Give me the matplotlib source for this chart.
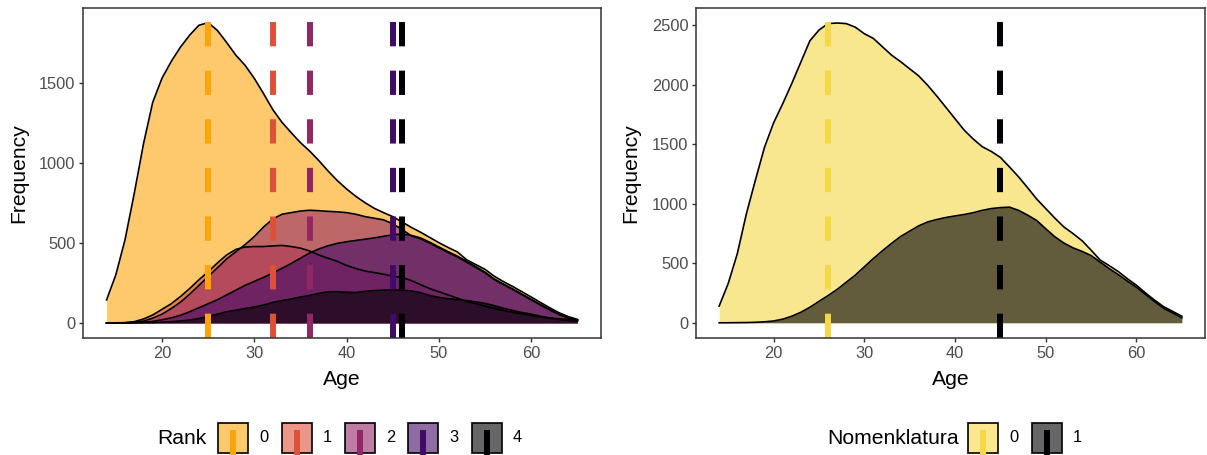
import numpy as np
import matplotlib
matplotlib.use("Agg")
import matplotlib.pyplot as plt
from matplotlib.patches import Rectangle
from matplotlib.lines import Line2D

plt.rcParams["font.family"] = ["Liberation Sans", "DejaVu Sans"]
plt.rcParams["lines.scale_dashes"] = False

# ---------------------------------------------------------
# Data
# ---------------------------------------------------------
ages = list(range(14, 66))

rank0 = [144, 300, 520, 810, 1120, 1380, 1530, 1635, 1725, 1800, 1862, 1878, 1830, 1755,
         1675, 1612, 1530, 1435, 1335, 1255, 1190, 1128, 1075, 1015, 950, 890, 838, 792,
         752, 717, 690, 665, 632, 598, 568, 535, 502, 472, 444, 395, 365, 335, 292, 258,
         228, 195, 162, 128, 95, 64, 40, 22]
rank1 = [0, 1, 2, 8, 25, 50, 85, 120, 165, 215, 270, 320, 375, 425, 460, 475, 478, 478,
         482, 485, 478, 468, 450, 425, 405, 385, 360, 340, 325, 315, 305, 292, 285, 265,
         240, 215, 195, 175, 155, 135, 120, 105, 90, 78, 66, 56, 46, 38, 32, 26, 22, 18]
rank2 = [0, 0, 1, 4, 12, 30, 55, 90, 130, 180, 235, 290, 345, 400, 445, 490, 540, 600,
         650, 680, 690, 700, 705, 702, 698, 695, 690, 680, 665, 655, 645, 620, 585, 545,
         527, 500, 470, 441, 413, 380, 347, 313, 271, 239, 209, 176, 144, 112, 81, 53, 31, 17]
rank3 = [0, 0, 1, 2, 5, 10, 20, 32, 48, 70, 95, 120, 145, 175, 205, 235, 260, 285, 312,
         342, 372, 405, 438, 463, 483, 498, 508, 516, 524, 532, 542, 552, 556, 548, 532,
         505, 475, 446, 418, 385, 352, 318, 275, 243, 213, 180, 148, 115, 84, 55, 33, 18]
rank4 = [0, 0, 0, 1, 2, 3, 5, 8, 12, 18, 28, 40, 55, 70, 80, 90, 100, 112, 128, 140, 150,
         162, 172, 185, 195, 196, 192, 190, 198, 203, 205, 207, 206, 200, 190, 172, 160,
         152, 146, 140, 132, 122, 108, 92, 78, 65, 55, 42, 30, 22, 16, 12]

nomen0 = [140, 330, 580, 915, 1200, 1475, 1680, 1840, 2010, 2190, 2370, 2460, 2515, 2520,
          2515, 2485, 2430, 2390, 2320, 2250, 2195, 2135, 2075, 1995, 1905, 1810, 1715,
          1620, 1545, 1480, 1440, 1390, 1310, 1227, 1135, 1040, 960, 880, 805, 750, 690,
          610, 527, 480, 430, 370, 315, 250, 190, 135, 95, 55]
nomen1 = [0, 0, 1, 2, 4, 8, 15, 30, 55, 88, 130, 180, 228, 280, 340, 400, 470, 540, 605,
          667, 725, 770, 815, 848, 868, 885, 898, 910, 925, 945, 960, 968, 972, 945, 905,
          860, 790, 723, 670, 630, 600, 565, 510, 455, 405, 350, 298, 238, 178, 122, 82, 42]

rank_levels = ["0", "1", "2", "3", "4"]
rank_medians = [25, 32, 36, 45, 46]
nomen_levels = ["0", "1"]
nomen_medians = [26, 45]

rank_series = [rank0, rank1, rank2, rank3, rank4]
nomen_series = [nomen0, nomen1]

rank_colors = [plt.cm.inferno(v) for v in [0.8, 0.6, 0.4, 0.2, 0.0]]
nomen_colors = [plt.cm.inferno(v) for v in [0.9, 0.0]]

W, H = 1207, 455
fig = plt.figure(figsize=(W / 100, H / 100), dpi=100)

TICK_FS = 11.8
TITLE_FS = 15.2


def fx(px):
    return px / W


def fy(py):
    return 1 - py / H


DASH = (0, (17.5, 17.5))


def draw_panel(ax, series, colors, medians, ylim, yticks):
    for vals, col in zip(series, colors):
        ax.fill_between(ages, 0, vals, color=col, alpha=0.6, linewidth=0)
        ax.plot(ages, vals, color="black", linewidth=1.2)
    for m, col in zip(medians, colors):
        ax.axvline(m, color=col, linewidth=4.3, linestyle=DASH)
    ax.set_xlim(11.45, 67.55)
    ax.set_ylim(*ylim)
    ax.set_xticks([20, 30, 40, 50, 60])
    ax.set_yticks(yticks)
    for s in ax.spines.values():
        s.set_color("#333333")
        s.set_linewidth(1.1)
    ax.tick_params(colors="#333333", labelcolor="#4D4D4D", labelsize=TICK_FS,
                   length=3, width=1.0, pad=2.5)
    ax.set_xlabel("Age", fontsize=TITLE_FS, labelpad=7)
    ax.set_ylabel("Frequency", fontsize=TITLE_FS, labelpad=8)


ax1 = fig.add_axes([fx(83), fy(338), fx(601) - fx(83), fy(8) - fy(338)])
draw_panel(ax1, rank_series, rank_colors, rank_medians, (-94, 1970),
           [0, 500, 1000, 1500])

ax2 = fig.add_axes([fx(696), fy(338), fx(1205) - fx(696), fy(8) - fy(338)])
draw_panel(ax2, nomen_series, nomen_colors, nomen_medians, (-128, 2646),
           [0, 500, 1000, 1500, 2000, 2500])


# ---------------------------------------------------------
# Legends (drawn by hand, ggplot style)
# ---------------------------------------------------------
def draw_legend(title, title_x, box_xs, levels, colors):
    fig.text(fx(title_x), fy(438), title, fontsize=TITLE_FS, va="center", ha="left")
    for bx, lev, col in zip(box_xs, levels, colors):
        fill = tuple(1 - 0.6 * (1 - c) for c in col[:3])
        fig.add_artist(Rectangle((fx(bx), fy(453)), fx(30), fy(0) - fy(30),
                                 facecolor=fill, edgecolor="black", linewidth=1.2,
                                 transform=fig.transFigure))
        fig.add_artist(Line2D([fx(bx + 15), fx(bx + 15)], [fy(455), fy(430)],
                              color=col, linewidth=4.3, solid_capstyle="butt",
                              transform=fig.transFigure))
        fig.text(fx(bx + 41), fy(438), lev, fontsize=TICK_FS, va="center", ha="left")


draw_legend("Rank", 157, [218, 282, 345, 408, 472], rank_levels, rank_colors)
draw_legend("Nomenklatura", 827, [968, 1032], nomen_levels, nomen_colors)

fig.savefig("out.png", dpi=100)
